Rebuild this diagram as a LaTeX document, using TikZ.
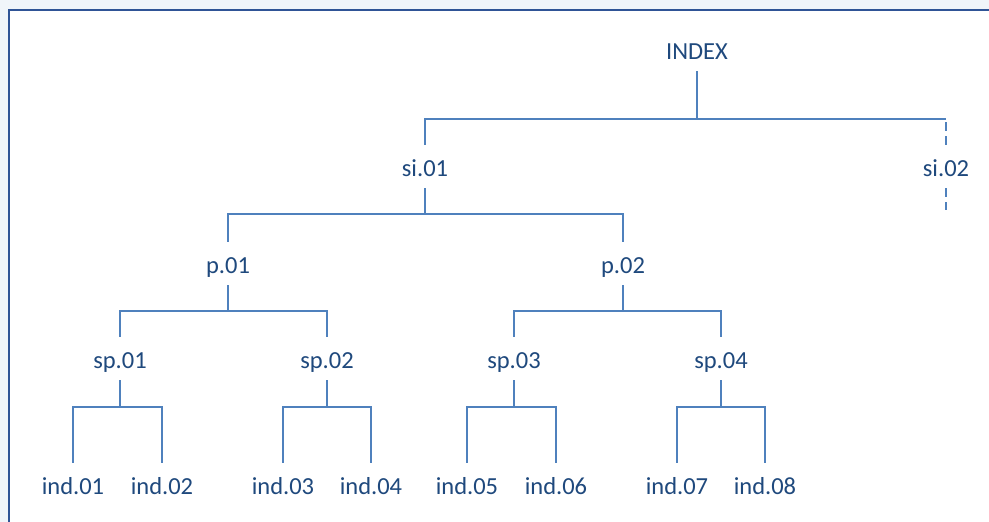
\documentclass[tikz,border=0pt]{standalone}
\usepackage{fontspec}
\setmainfont{Carlito}
\definecolor{txtblue}{RGB}{31,73,125}
\definecolor{lineblue}{RGB}{79,129,189}
\definecolor{frameblue}{RGB}{47,84,150}
\definecolor{bgblue}{RGB}{240,245,250}
\begin{document}
\begin{tikzpicture}[x=1pt,y=-1pt,
  lbl/.style={text=txtblue,font=\fontsize{24.5}{28}\selectfont,inner sep=0pt,
    minimum height=43pt,text height=23pt,text depth=4pt,anchor=center},
  conn/.style={draw=lineblue,line width=1.6pt},
  dconn/.style={conn,dash pattern=on 9pt off 5pt}]
\useasboundingbox (0,0) rectangle (989,522);
\fill[bgblue] (0,0) rectangle (989,522);
\fill[white] (9,10) rectangle (995,530);
\draw[frameblue,line width=2.6pt] (9,530) -- (9,10) -- (995,10);

% nodes
\node[lbl] (index) at (697,49.5) {INDEX};
\node[lbl] (si01) at (425,166.5) {si.01};
\node[lbl] (si02) at (946,166.5) {si.02};
\node[lbl] (p01) at (228,263.5) {p.01};
\node[lbl] (p02) at (623,263.5) {p.02};
\node[lbl] (sp01) at (120,358.5) {sp.01};
\node[lbl] (sp02) at (327,358.5) {sp.02};
\node[lbl] (sp03) at (514,358.5) {sp.03};
\node[lbl] (sp04) at (721,358.5) {sp.04};
\node[lbl] (ind01) at (73,484.5) {ind.01};
\node[lbl] (ind02) at (162,484.5) {ind.02};
\node[lbl] (ind03) at (283,484.5) {ind.03};
\node[lbl] (ind04) at (371,484.5) {ind.04};
\node[lbl] (ind05) at (467,484.5) {ind.05};
\node[lbl] (ind06) at (556,484.5) {ind.06};
\node[lbl] (ind07) at (677,484.5) {ind.07};
\node[lbl] (ind08) at (765,484.5) {ind.08};

% junctions
\coordinate (j0) at (697,119);
\coordinate (j1) at (425,214);
\coordinate (j2) at (228,311);
\coordinate (j3) at (623,311);
\coordinate (j4) at (120,407);
\coordinate (j5) at (327,407);
\coordinate (j6) at (514,407);
\coordinate (j7) at (721,407);
\coordinate (si02end) at (946,210);

% INDEX
\draw[conn] (index.south) -- (j0);
\draw[conn] (si01.north) -- (si01.north |- j0) -- (si02.north |- j0);
\draw[dconn] (si02.north) -- (si02.north |- j0);
\draw[dconn] (si02.south) -- (si02end);
% si.01
\draw[conn] (si01.south) -- (j1);
\draw[conn] (p01.north) -- (p01.north |- j1) -- (p02.north |- j1) -- (p02.north);
% p.01 / p.02
\draw[conn] (p01.south) -- (j2);
\draw[conn] (sp01.north) -- (sp01.north |- j2) -- (sp02.north |- j2) -- (sp02.north);
\draw[conn] (p02.south) -- (j3);
\draw[conn] (sp03.north) -- (sp03.north |- j3) -- (sp04.north |- j3) -- (sp04.north);
% sp
\draw[conn] (sp01.south) -- (j4);
\draw[conn] (ind01.north) -- (ind01.north |- j4) -- (ind02.north |- j4) -- (ind02.north);
\draw[conn] (sp02.south) -- (j5);
\draw[conn] (ind03.north) -- (ind03.north |- j5) -- (ind04.north |- j5) -- (ind04.north);
\draw[conn] (sp03.south) -- (j6);
\draw[conn] (ind05.north) -- (ind05.north |- j6) -- (ind06.north |- j6) -- (ind06.north);
\draw[conn] (sp04.south) -- (j7);
\draw[conn] (ind07.north) -- (ind07.north |- j7) -- (ind08.north |- j7) -- (ind08.north);
\end{tikzpicture}
\end{document}
